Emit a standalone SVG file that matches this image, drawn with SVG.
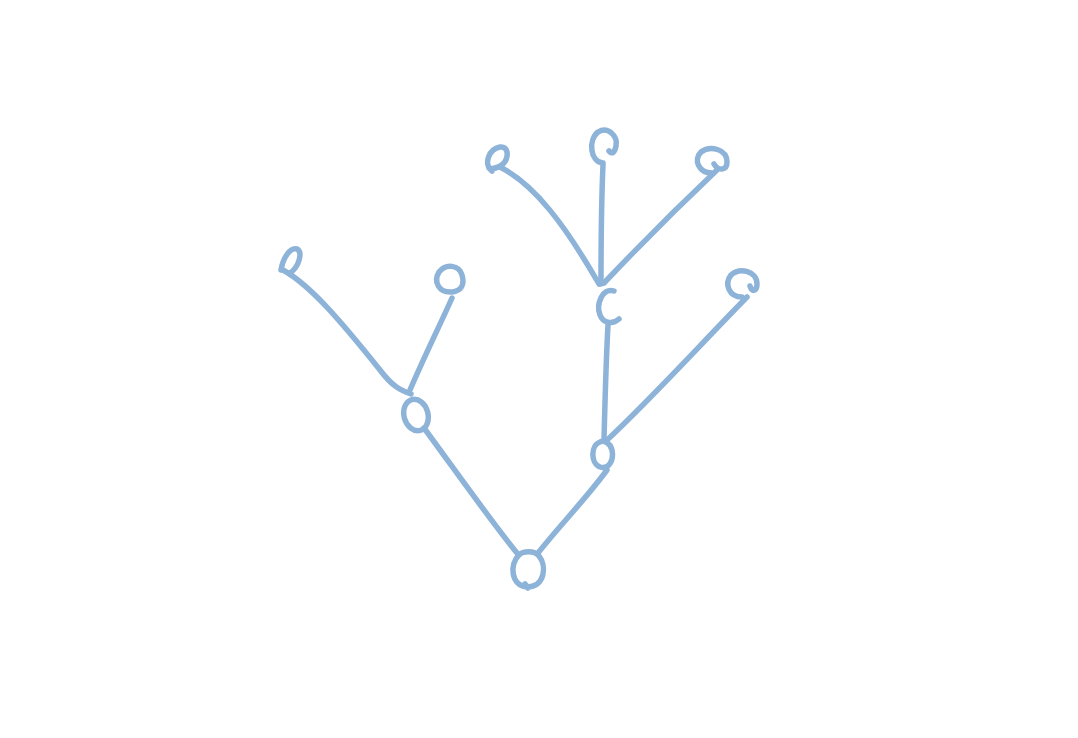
<svg xmlns="http://www.w3.org/2000/svg" width="1078" height="738" viewBox="0 0 1078 738">
<style>
.s{fill:none;stroke:#8db3d9;stroke-width:5.5;stroke-linecap:round;stroke-linejoin:round}
</style>
<rect width="1078" height="738" fill="#ffffff"/>
<g id="connectors">
<path class="s" d="M517 553 C490 520 455 470 424 428"/>
<path class="s" d="M538 553 C560 525 585 500 607 470"/>
<path class="s" d="M283 270 C310 285 340 320 380 370 C392 386 400 390 411 394"/>
<path class="s" d="M410 390 C425 355 440 325 452 298"/>
<path class="s" d="M604 440 C605 400 606 360 608 325"/>
<path class="s" d="M606 441 C650 400 700 345 747 297"/>
<path class="s" d="M500 167 C535 185 565 225 599 284"/>
<path class="s" d="M603 165 C601 210 601 250 601 284"/>
<path class="s" d="M604 283 C640 245 680 205 717 170"/>
</g>
<g id="root"><path class="s" d="M519 555 C509 564 511 586 527 587 C545 587 547 566 539 556 C534 550 523 551 519 555 M525 584 L528 588"/></g>
<g id="nodeA"><ellipse class="s" cx="416" cy="415" rx="12" ry="16" transform="rotate(-15 416 415)"/></g>
<g id="nodeB"><path class="s" d="M600 442 C591 445 590 463 600 467 C609 470 614 460 612 450 C610 442 603 440 600 442 Z"/></g>
<g id="nodeC"><path class="s" d="M614 291 C602 287 596 305 600 315 C603 323 612 325 619 319"/></g>
<g id="leafL1"><path class="s" d="M281 270 C283 258 290 247 297 249 C303 252 299 267 290 273"/></g>
<g id="leafL2"><path class="s" d="M452 292 C439 293 433 282 439 272 C446 263 459 265 462 275 C465 285 461 291 452 292 Z"/></g>
<g id="leafT1"><path class="s" d="M492 171 C483 164 489 149 500 147 C509 146 509 158 503 164 C498 168 493 169 489 168"/></g>
<g id="leafT2"><path class="s" d="M603 163 C590 162 588 140 598 132 C608 126 618 136 616 146 C615 152 612 155 609 151"/></g>
<g id="leafT3"><path class="s" d="M712 173 C699 173 693 160 701 152 C710 145 727 149 727 162 C727 171 718 171 714 164"/></g>
<g id="leafR"><path class="s" d="M742 297 C729 297 724 284 731 275 C740 267 757 271 757 284 C757 291 752 293 750 286"/></g>
</svg>
